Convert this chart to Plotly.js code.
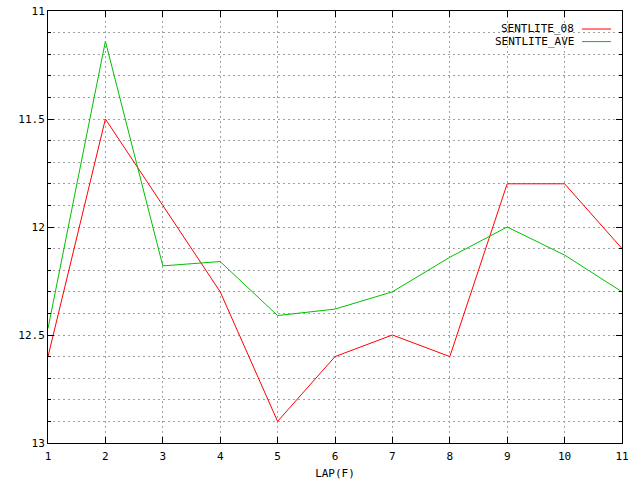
<!DOCTYPE html>
<html>
<head>
<meta charset="utf-8">
<script src="https://cdn.plot.ly/plotly-3.0.1.min.js"></script>
<style>html,body{margin:0;padding:0;background:#fff}#chart{width:640px;height:480px}</style>
</head>
<body>
<div id="chart"></div>
<script>
const laps = [1, 2, 3, 4, 5, 6, 7, 8, 9, 10, 11];
const sentlite08 = [12.6, 11.5, 11.9, 12.3, 12.9, 12.6, 12.5, 12.6, 11.8, 11.8, 12.1];
const sentliteAve = [12.47, 11.14, 12.18, 12.16, 12.41, 12.38, 12.3, 12.14, 12.0, 12.13, 12.3];
const seriesNames = ["SENTLITE_08", "SENTLITE_AVE"];
const seriesColors = ["#ff0000", "#00c000"];
const xTickVals = laps;
const yTickVals = [11, 11.5, 12, 12.5, 13];

const font = {family: "DejaVu Sans Mono, monospace", size: 11, color: "#000"};
const traces = [
  {x: laps, y: sentlite08, name: seriesNames[0], type: "scatter", mode: "lines",
   line: {color: seriesColors[0], width: 1}},
  {x: laps, y: sentliteAve, name: seriesNames[1], type: "scatter", mode: "lines",
   line: {color: seriesColors[1], width: 1}}
];
const gridCommon = {
  showgrid: true, gridcolor: "#a0a0a0", griddash: "2px,3px", gridwidth: 1,
  showline: true, linecolor: "#000", linewidth: 1, mirror: "allticks",
  ticks: "inside", tickcolor: "#000", ticklen: 6, zeroline: false,
  tickfont: font
};
// gnuplot-style key: right-aligned text with the line sample on its right
const keyTop = 20, keyStep = 14; // px from top of figure
const annotations = [], shapes = [];
seriesNames.forEach((nm, i) => {
  const yp = 1 - (keyTop + i * keyStep) / 480;
  annotations.push({xref: "paper", yref: "paper", x: (576 - 48) / 574, y: yp,
    xanchor: "right", yanchor: "middle", text: nm, showarrow: false, font: font});
  shapes.push({type: "line", xref: "paper", yref: "paper",
    x0: (582 - 48) / 574, x1: (611 - 48) / 574, y0: yp, y1: yp,
    line: {color: seriesColors[i], width: 1}});
});
const layout = {
  width: 640, height: 480,
  margin: {l: 48, r: 18, t: 11, b: 37},
  paper_bgcolor: "#fff", plot_bgcolor: "#fff",
  font: font,
  showlegend: false,
  annotations: annotations,
  shapes: shapes,
  xaxis: Object.assign({}, gridCommon, {
    range: [1, 11], tickmode: "array", tickvals: xTickVals, ticklabelstandoff: 3,
    title: {text: "LAP(F)", font: font, standoff: 9}
  }),
  yaxis: Object.assign({}, gridCommon, {
    range: [13, 11], tickmode: "array", tickvals: yTickVals,
    minor: {dtick: 0.1, tick0: 11, showgrid: true, gridcolor: "#a0a0a0", griddash: "2px,3px",
            ticks: "inside", ticklen: 3, tickcolor: "#000"}
  })
};
Plotly.newPlot("chart", traces, layout, {staticPlot: true});
</script>
</body>
</html>
